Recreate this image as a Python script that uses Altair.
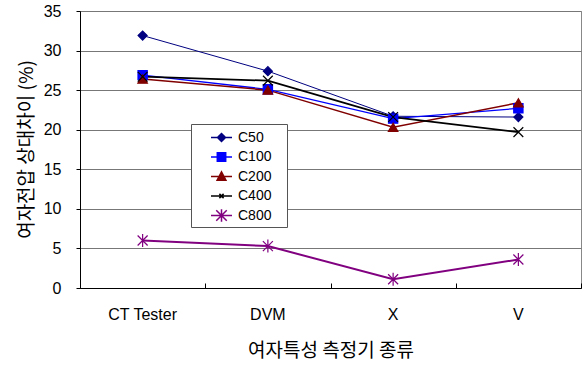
import altair as alt
import pandas as pd

categories = ["CT Tester", "DVM", "X", "V"]
series = ["C50", "C100", "C200", "C400", "C800"]
c50 = [31.9, 27.4, 21.7, 21.6]
c100 = [26.9, 25.1, 21.4, 22.7]
c200 = [26.4, 25.0, 20.3, 23.4]
c400 = [26.7, 26.2, 21.6, 19.7]
c800 = [6.0, 5.3, 1.1, 3.6]
y_ticks = [0, 5, 10, 15, 20, 25, 30, 35]

values = {"C50": c50, "C100": c100, "C200": c200, "C400": c400, "C800": c800}
rows = []
for s in series:
    for c, v in zip(categories, values[s]):
        rows.append({"device": c, "series": s, "value": v})
df = pd.DataFrame(rows)

colors = ["#000080", "#0000FF", "#800000", "#000000", "#800080"]
fills = ["#000080", "#0000FF", "#800000", "transparent", "transparent"]
line_widths = [1, 2, 2, 1, 1.5]
point_sizes = [81, 100, 80, 40, 130]
X_PATH = "M-1,-1L1,1M-1,1L1,-1"
AST_PATH = "M-1,-1L1,1M-1,1L1,-1M0,-1.3L0,1.3"
point_shapes = ["diamond", "square", "triangle-up", X_PATH, AST_PATH]
legend_shapes = [
    "M-1,0L1,0M0,-0.38L0.38,0L0,0.38L-0.38,0Z",
    "M-1,0L1,0M-0.4,-0.4L0.4,-0.4L0.4,0.4L-0.4,0.4Z",
    "M-1,0L1,0M0,-0.45L0.42,0.35L-0.42,0.35Z",
    "M-1,0L1,0M-0.2,-0.2L0.2,0.2M-0.2,0.2L0.2,-0.2",
    "M-1,0L1,0M-0.5,-0.5L0.5,0.5M-0.5,0.5L0.5,-0.5M0,-0.6L0,0.6",
]

KFONT = "Noto Sans CJK KR"
LFONT = "Liberation Sans"

xscale = alt.Scale(domain=categories, paddingInner=0, paddingOuter=0)
yscale = alt.Scale(domain=[0, 35], nice=False)
cscale = alt.Scale(domain=series, range=colors)
fscale = alt.Scale(domain=series, range=fills)

x_bottom = alt.X(
    "device:N", scale=xscale, sort=categories,
    axis=alt.Axis(
        orient="bottom", title="여자특성 측정기 종류", titleFont=KFONT, titleFontSize=19,
        titleFontWeight="normal", titleColor="black", titleY=62, titleBaseline="middle",
        labelFont=LFONT, labelFontSize=16, labelColor="black", labelAngle=0,
        labelPadding=18, ticks=False, domainColor="black", domainWidth=1, grid=False,
    ),
)
x_top = alt.X(
    "device:N", scale=xscale, sort=categories,
    axis=alt.Axis(
        orient="top", offset=-277, domain=False, labels=False, ticks=True, tickSize=5,
        tickColor="black", tickWidth=1, tickBand="extent", title=None, grid=False,
    ),
)
y_axis = alt.Axis(
    values=y_ticks, title="여자전압 상대차이 (%)", titleFont=KFONT, titleFontSize=19,
    titleFontWeight="normal", titleColor="black", titleX=-54, titleY=138,
    titleBaseline="middle", titleAngle=-90,
    labelFont=LFONT, labelFontSize=16, labelColor="black", labelPadding=15,
    tickSize=4, tickColor="black", domainColor="black",
    grid=True, gridColor="#777777", gridWidth=1,
)
y_enc = alt.Y("value:Q", scale=yscale, axis=y_axis)

lines = alt.Chart(df).mark_line().encode(
    x=x_bottom,
    y=y_enc,
    color=alt.Color("series:N", scale=cscale, legend=None),
    strokeWidth=alt.StrokeWidth("series:N", scale=alt.Scale(domain=series, range=line_widths), legend=None),
    detail="series:N",
)

points = alt.Chart(df).mark_point(strokeWidth=1.2, opacity=1).encode(
    x=x_top,
    y=y_enc,
    color=alt.Color("series:N", scale=cscale, legend=None),
    fill=alt.Fill("series:N", scale=fscale, legend=None),
    shape=alt.Shape("series:N", scale=alt.Scale(domain=series, range=point_shapes), legend=None),
    size=alt.Size("series:N", scale=alt.Scale(domain=series, range=point_sizes), legend=None),
)

legend_spec = dict(
    orient="none", legendX=111, legendY=113, title="\u00a0", titleOrient="right",
    titlePadding=14, titleFontSize=14,
    strokeColor="#555555", fillColor="white", padding=2,
    symbolOffset=17, symbolSize=441, symbolStrokeWidth=1.5,
    labelOffset=5, rowPadding=0.5, labelFont=LFONT, labelFontSize=14, labelColor="black",
)

legend_layer = alt.Chart(df).transform_filter("datum.value < -1000").mark_point(opacity=1).encode(
    x=alt.X("device:N", scale=xscale, sort=categories, axis=None),
    y=y_enc,
    color=alt.Color("series:N", scale=cscale, sort=series, legend=alt.Legend(**legend_spec)),
    fill=alt.Fill("series:N", scale=fscale, sort=series, legend=alt.Legend(**legend_spec)),
    shape=alt.Shape("series:N", scale=alt.Scale(domain=series, range=legend_shapes), sort=series,
                    legend=alt.Legend(**legend_spec)),
)

chart = (
    alt.layer(lines, points, legend_layer)
    .resolve_scale(color="independent", fill="independent", shape="independent")
    .resolve_axis(x="independent")
    .properties(
        width=501, height=277, autosize="none",
        padding={"left": 80, "top": 11, "right": 4, "bottom": 80},
        background="white",
    )
    .configure_view(stroke="#888888", strokeWidth=1)
)

chart.save("out.html", embed_options={"renderer": "svg", "actions": False})
